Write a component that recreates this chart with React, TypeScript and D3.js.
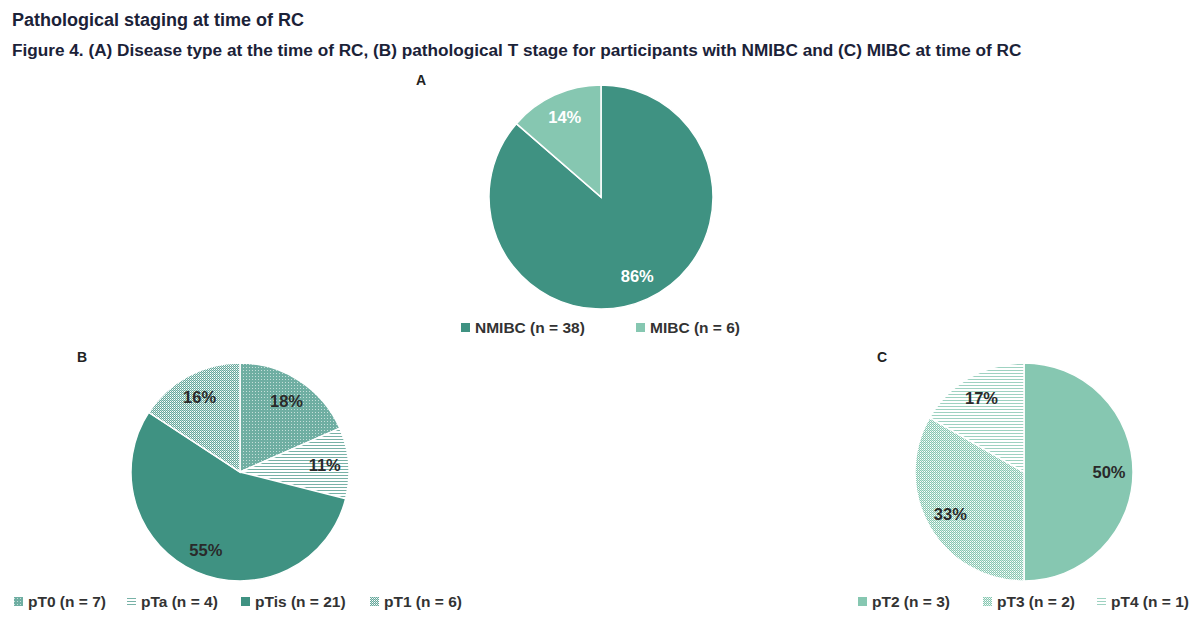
import * as d3 from 'd3';

// Colours sampled off the figure
const DARK = '#3f9282';
const LIGHT = '#86c7b1';
const INK = '#1b2238';
const LABEL_INK = '#2a2a2a';

const TITLE = 'Pathological staging at time of RC';
const CAPTION = 'Figure 4. (A) Disease type at the time of RC, (B) pathological T stage for participants with NMIBC and (C) MIBC at time of RC';

// Panel A — disease type
const typeNames = ['NMIBC', 'MIBC'];
const typeCounts = [38, 6];
const typeFills = ['solid-dark', 'solid-light'];

// Panel B — T stage, NMIBC
const nmibcNames = ['pT0', 'pTa', 'pTis', 'pT1'];
const nmibcCounts = [7, 4, 21, 6];
const nmibcFills = ['dots-dark', 'lines-dark', 'solid-dark', 'dots-dark-light'];

// Panel C — T stage, MIBC
const mibcNames = ['pT2', 'pT3', 'pT4'];
const mibcCounts = [3, 2, 1];
const mibcFills = ['solid-light', 'dots-light', 'lines-light'];

const W = 1200;
const H = 618;

function fillFor(key: string) {
  if (key === 'solid-dark') return DARK;
  if (key === 'solid-light') return LIGHT;
  return `url(#${key})`;
}

type Slice = { v: number; i: number };

type PanelProps = {
  letter: string;
  letterX: number;
  letterY: number;
  cx: number;
  cy: number;
  r: number;
  names: string[];
  counts: number[];
  fills: string[];
  labelColor: string;
  legendY: number;
  legendX: number[];
};

function PiePanel(p: PanelProps) {
  const data: Slice[] = p.counts.map((v, i) => ({ v, i }));
  const total = d3.sum(p.counts);
  const pie = d3.pie<Slice>().value((d) => d.v).sort(null);
  const arcs = pie(data);
  const arc = d3.arc<d3.PieArcDatum<Slice>>().innerRadius(0).outerRadius(p.r);
  const labelArc = d3.arc<d3.PieArcDatum<Slice>>()
    .innerRadius(p.r * 0.78)
    .outerRadius(p.r * 0.78);
  const pct = d3.format('.0%');

  return (
    <g>
      <text x={p.letterX} y={p.letterY} fontSize={14} fontWeight="bold" fill="#222">{p.letter}</text>
      <g transform={`translate(${p.cx},${p.cy})`}>
        {arcs.map((a) => (
          <path key={a.index} d={arc(a) ?? ''} fill={fillFor(p.fills[a.index])} stroke="#fff" strokeWidth={1.5} />
        ))}
        {arcs.map((a) => {
          const [lx, ly] = labelArc.centroid(a);
          return (
            <text key={'l' + a.index} x={lx} y={ly} dy="0.35em" textAnchor="middle"
              fontSize={16.5} fontWeight="bold" fill={p.labelColor}>
              {pct(a.data.v / total)}
            </text>
          );
        })}
      </g>
      {p.names.map((n, i) => (
        <g key={n} transform={`translate(${p.legendX[i]},${p.legendY})`}>
          <rect x={0} y={-10} width={9} height={9} fill={fillFor(p.fills[i])} />
          <text x={14} y={0} fontSize={15.5} fontWeight="bold" fill="#333">
            {`${n} (n = ${p.counts[i]})`}
          </text>
        </g>
      ))}
    </g>
  );
}

export default function App() {
  return (
    <svg width={W} height={H} style={{ position: 'absolute', left: 0, top: 0, background: '#fff' }}
      fontFamily="'Liberation Sans', Arial, sans-serif">
      <defs>
        <pattern id="dots-dark" width={3} height={3} patternUnits="userSpaceOnUse">
          <rect width={3} height={3} fill={DARK} opacity={0.75} />
          <rect x={0} y={0} width={1} height={1} fill="#fff" opacity={0.6} />
        </pattern>
        <pattern id="dots-dark-light" width={2} height={2} patternUnits="userSpaceOnUse">
          <rect width={2} height={2} fill="#fff" />
          <rect x={0} y={0} width={1} height={1} fill={DARK} opacity={0.8} />
          <rect x={1} y={1} width={1} height={1} fill={DARK} opacity={0.8} />
          <rect x={1} y={0} width={1} height={1} fill={DARK} opacity={0.35} />
        </pattern>
        <pattern id="lines-dark" width={3} height={3} patternUnits="userSpaceOnUse">
          <rect width={3} height={3} fill="#fff" />
          <rect x={0} y={0} width={3} height={1} fill={DARK} opacity={0.7} />
        </pattern>
        <pattern id="dots-light" width={2} height={2} patternUnits="userSpaceOnUse">
          <rect width={2} height={2} fill="#fff" />
          <rect x={0} y={0} width={1} height={1} fill={LIGHT} />
          <rect x={1} y={1} width={1} height={1} fill={LIGHT} />
          <rect x={1} y={0} width={1} height={1} fill={LIGHT} opacity={0.4} />
        </pattern>
        <pattern id="lines-light" width={3} height={3} patternUnits="userSpaceOnUse">
          <rect width={3} height={3} fill="#fff" />
          <rect x={0} y={0} width={3} height={1} fill={LIGHT} opacity={0.8} />
        </pattern>
      </defs>

      <text x={12} y={26} fontSize={18} fontWeight="bold" fill={INK}>{TITLE}</text>
      <text x={12} y={56} fontSize={17.2} fontWeight="bold" fill={INK}>{CAPTION}</text>

      <PiePanel letter="A" letterX={416} letterY={85} cx={601} cy={197} r={112}
        names={typeNames} counts={typeCounts} fills={typeFills} labelColor="#fff"
        legendY={333} legendX={[461, 636]} />
      <PiePanel letter="B" letterX={77} letterY={362} cx={240} cy={472} r={109}
        names={nmibcNames} counts={nmibcCounts} fills={nmibcFills} labelColor={LABEL_INK}
        legendY={607} legendX={[14, 127, 241, 370]} />
      <PiePanel letter="C" letterX={877} letterY={362} cx={1024} cy={472} r={109}
        names={mibcNames} counts={mibcCounts} fills={mibcFills} labelColor={LABEL_INK}
        legendY={607} legendX={[858, 983, 1097]} />
    </svg>
  );
}
